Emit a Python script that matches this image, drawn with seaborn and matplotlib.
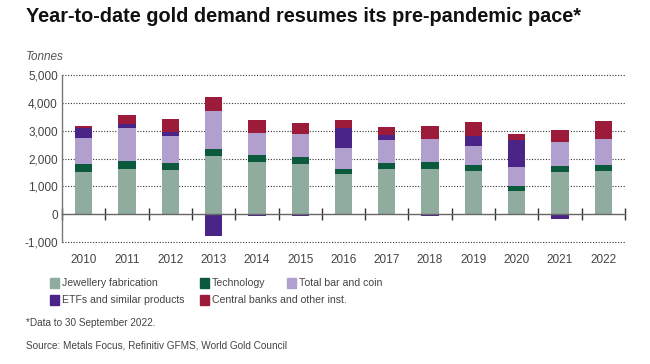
import numpy as np
import pandas as pd
import matplotlib
matplotlib.use("Agg")
import matplotlib.pyplot as plt
import seaborn as sns
from matplotlib.patches import Rectangle
from matplotlib.ticker import FuncFormatter, MultipleLocator

# ----------------------------------------------------------------------
# Data (tonnes)
# ----------------------------------------------------------------------
years = ["2010", "2011", "2012", "2013", "2014", "2015", "2016",
         "2017", "2018", "2019", "2020", "2021", "2022"]
jewellery = [1500, 1610, 1580, 2090, 1880, 1820, 1440, 1630, 1630, 1560, 830, 1510, 1560]
technology = [320, 310, 270, 260, 230, 230, 200, 220, 250, 215, 190, 215, 215]
bar_coin = [900, 1160, 955, 1370, 790, 815, 720, 810, 805, 670, 660, 865, 925]
etfs = [360, 145, 155, -780, -70, -60, 745, 170, -50, 360, 980, -170, 0]
central_banks = [100, 345, 445, 480, 470, 420, 275, 290, 480, 515, 205, 420, 660]

labels = ["Jewellery fabrication", "Technology", "Total bar and coin",
          "ETFs and similar products", "Central banks and other inst."]
colors = ["#8fac9f", "#0b5a3d", "#b1a0cd", "#4a2587", "#9c1b3b"]

df = pd.DataFrame({"year": years, "jew": jewellery, "tech": technology,
                   "bar": bar_coin, "etf": etfs, "cb": central_banks})
df["etf_pos"] = df["etf"].clip(lower=0)
df["etf_neg"] = df["etf"].clip(upper=0)

# cumulative tops of the positive stack
layers = ["jew", "tech", "bar", "etf_pos", "cb"]
cum = df[layers].cumsum(axis=1)

# ----------------------------------------------------------------------
# Figure
# ----------------------------------------------------------------------
sns.set_theme(style="white")
plt.rcParams["font.family"] = ["Liberation Sans", "DejaVu Sans"]
plt.rcParams["axes.unicode_minus"] = False

fig = plt.figure(figsize=(6.5, 3.64), dpi=100)
ax = fig.add_axes([0.0954, 0.335, 0.866, 0.459])

# draw tallest cumulative first so lower layers paint over it
for layer, col in reversed(list(zip(layers, colors))):
    sns.barplot(x=df["year"], y=cum[layer], color=col, saturation=1,
                width=0.4, linewidth=0, errorbar=None, ax=ax)
sns.barplot(x=df["year"], y=df["etf_neg"], color=colors[3], saturation=1,
            width=0.4, linewidth=0, errorbar=None, ax=ax)

ax.set_xlim(-0.5, len(years) - 0.5)
ax.set_ylim(-1000, 5000)
ax.set_xlabel("")
ax.set_ylabel("")

# dotted grid
for v in [-1000, 1000, 2000, 3000, 4000, 5000]:
    ax.axhline(v, color="#333333", lw=0.8, ls=(0, (1, 1.5)), zorder=0, clip_on=False)

# spines
for s in ["top", "right"]:
    ax.spines[s].set_visible(False)
ax.spines["left"].set_color("#777777")
ax.spines["left"].set_linewidth(1.0)
ax.spines["bottom"].set_position(("data", 0))
ax.spines["bottom"].set_color("#666666")
ax.spines["bottom"].set_linewidth(1.0)

# x ticks: boundary marks on zero line, labels at bottom
ax.xaxis.set_minor_locator(MultipleLocator(1, offset=0.5))
ax.tick_params(axis="x", which="minor", direction="inout", length=9,
               width=1.0, color="#333333", bottom=True)
ax.tick_params(axis="x", which="major", length=0, pad=29,
               labelsize=8.5, labelcolor="#444444")
ax.tick_params(axis="y", length=0, pad=3, labelsize=8.5, labelcolor="#444444")
ax.yaxis.set_major_locator(MultipleLocator(1000))
ax.yaxis.set_major_formatter(FuncFormatter(lambda v, p: f"{int(v):,}"))

# texts
fig.text(26 / 650, 1 - 17 / 364, "Year-to-date gold demand resumes its pre-pandemic pace*",
         fontsize=14.3, fontweight="bold", color="#111111", va="center", ha="left")
fig.text(26 / 650, 1 - 57 / 364, "Tonnes", fontsize=8.5, style="italic",
         color="#555555", va="center", ha="left")

# legend (manual layout)
legend_pos = [(50, 283), (200, 283), (287, 283), (50, 300), (200, 300)]
for (px, py), lab, col in zip(legend_pos, labels, colors):
    fig.patches.append(Rectangle((px / 650, 1 - (py + 5) / 364), 9 / 650, 10 / 364,
                                 transform=fig.transFigure, color=col))
    fig.text((px + 12) / 650, 1 - py / 364, lab, fontsize=7.6, color="#444444",
             va="center", ha="left")

fig.text(26 / 650, 1 - 323 / 364, "*Data to 30 September 2022.", fontsize=7.2,
         color="#444444", va="center", ha="left")
fig.text(26 / 650, 1 - 346 / 364, "Source: Metals Focus, Refinitiv GFMS, World Gold Council",
         fontsize=7.2, color="#444444", va="center", ha="left")

fig.savefig("out.png", dpi=100)
